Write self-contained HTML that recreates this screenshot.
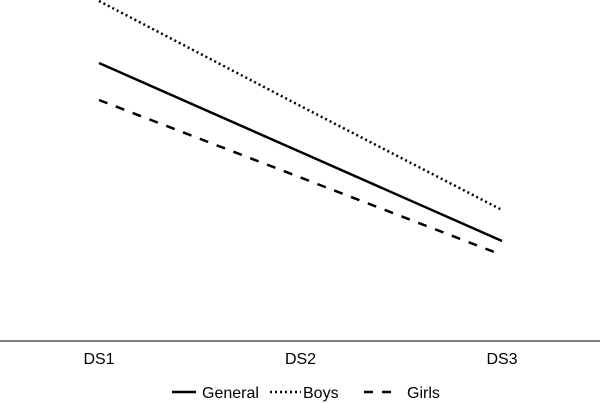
<!DOCTYPE html>
<html><head><meta charset="utf-8"><style>
html,body{margin:0;padding:0;background:#fff;}
svg{display:block;font-family:"Liberation Sans",sans-serif;}
</style></head><body>
<svg id="chart" width="600" height="403" viewBox="0 0 600 403">
<line x1="0" y1="341" x2="600" y2="341" stroke="#000" stroke-width="1"/>
<g id="xticks"></g>
<g id="series"></g>
<g>
  <g>
    <line x1="172" y1="392" x2="196" y2="392" stroke="#000" stroke-width="2.5"/>
    <text x="202" y="398" font-size="16">General</text>
  </g>
  <g>
    <line x1="270" y1="392" x2="301" y2="392" stroke="#000" stroke-width="2.5" stroke-dasharray="2,3"/>
    <text x="303" y="398" font-size="16">Boys</text>
  </g>
  <g>
    <line x1="364" y1="392" x2="392" y2="392" stroke="#000" stroke-width="2.5" stroke-dasharray="9,9"/>
    <text x="407" y="398" font-size="16">Girls</text>
  </g>
</g>
</svg>
<script>
const categories = ["DS1","DS2","DS3"];
const general = [278, 189, 100];
const boys = [340, 235, 131];
const girls = [241, 163.5, 86];
const seriesNames = ["General","Boys","Girls"];

const NS="http://www.w3.org/2000/svg";
function xScale(i){ return 99 + i*201.5; }
function yScale(v){ return 341 - v; }
const xt=document.getElementById('xticks');
categories.forEach((c,i)=>{
  const t=document.createElementNS(NS,'text');
  
  
  t.setAttribute('x',xScale(i)); t.setAttribute('y',364);
  t.setAttribute('text-anchor','middle'); t.setAttribute('font-size','16');
  t.textContent=c; xt.appendChild(t);
});
const styles={General:"", Boys:"2,3", Girls:"9,9"};
const widths={General:2.5, Boys:2.5, Girls:2.5};
const sg=document.getElementById('series');
[general,boys,girls].forEach((vals,k)=>{
  const name=seriesNames[k];
  const p=document.createElementNS(NS,'polyline');
  
  
  p.setAttribute('points',vals.map((v,i)=>xScale(i)+','+yScale(v)).join(' '));
  p.setAttribute('fill','none'); p.setAttribute('stroke','#000');
  p.setAttribute('stroke-width',widths[name]);
  if(styles[name]) p.setAttribute('stroke-dasharray',styles[name]);
  sg.appendChild(p);
});
</script>
</body></html>
